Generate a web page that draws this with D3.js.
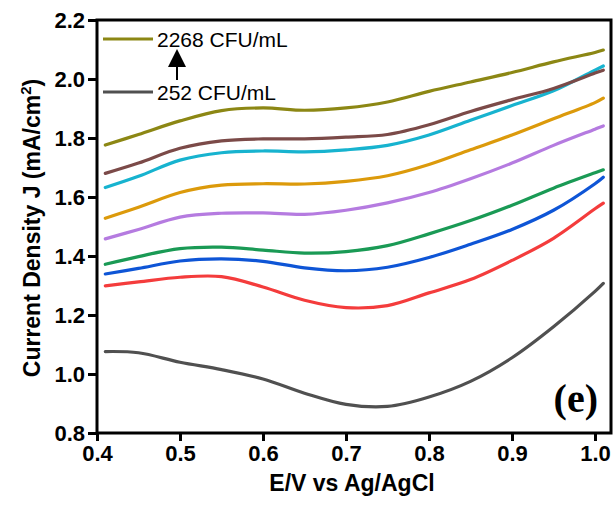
<!DOCTYPE html>
<html><head><meta charset="utf-8">
<script src="https://cdn.jsdelivr.net/npm/d3@7"></script>
<style>body{margin:0;background:#fff}svg{display:block}</style>
</head><body>
<svg id="chart" width="614" height="508"></svg>
<script>
const potentials = [0.41, 0.45, 0.50, 0.55, 0.60, 0.65, 0.70, 0.75, 0.80, 0.85, 0.90, 0.95, 1.00, 1.01];
const seriesNames = ["2268 CFU/mL", "s8", "s7", "s6", "s5", "s4", "s3", "s2", "252 CFU/mL"];
const seriesColors = ["#8c8714", "#7b4a48", "#17b3cf", "#dc9a0b", "#b57be0", "#1a9a55", "#0e55d6", "#f43c3c", "#505050"];
const olive  = [1.776, 1.812, 1.858, 1.893, 1.902, 1.894, 1.902, 1.922, 1.958, 1.990, 2.022, 2.058, 2.090, 2.098];
const brown  = [1.680, 1.715, 1.765, 1.790, 1.797, 1.797, 1.803, 1.812, 1.845, 1.890, 1.930, 1.968, 2.020, 2.030];
const cyan   = [1.632, 1.670, 1.725, 1.750, 1.756, 1.753, 1.760, 1.775, 1.810, 1.860, 1.910, 1.960, 2.030, 2.044];
const orange = [1.528, 1.565, 1.615, 1.640, 1.645, 1.644, 1.653, 1.672, 1.710, 1.760, 1.810, 1.865, 1.920, 1.935];
const purple = [1.458, 1.490, 1.532, 1.545, 1.546, 1.541, 1.555, 1.580, 1.615, 1.662, 1.715, 1.775, 1.830, 1.841];
const green  = [1.372, 1.398, 1.425, 1.430, 1.420, 1.410, 1.415, 1.435, 1.475, 1.520, 1.572, 1.630, 1.682, 1.692];
const blue   = [1.339, 1.358, 1.383, 1.390, 1.382, 1.360, 1.350, 1.362, 1.395, 1.440, 1.490, 1.555, 1.645, 1.667];
const red    = [1.299, 1.312, 1.328, 1.330, 1.295, 1.250, 1.225, 1.232, 1.275, 1.320, 1.385, 1.460, 1.560, 1.579];
const gray   = [1.076, 1.072, 1.040, 1.015, 0.983, 0.935, 0.897, 0.890, 0.922, 0.975, 1.055, 1.160, 1.280, 1.307];
const seriesValues = [olive, brown, cyan, orange, purple, green, blue, red, gray];
const xTicks = [0.4, 0.5, 0.6, 0.7, 0.8, 0.9, 1.0];
const yTicks = [0.8, 1.0, 1.2, 1.4, 1.6, 1.8, 2.0, 2.2];
const legendItems = [{label: "2268 CFU/mL", idx: 0}, {label: "252 CFU/mL", idx: 8}];

const svg = d3.select("#chart");
const L = 97, R = 611, T = 20, B = 433;
const x = d3.scaleLinear().domain([0.4, 1.0]).range([L, 595]);
const y = d3.scaleLinear().domain([0.8, 2.2]).range([B, T]);
const sans = "'Liberation Sans', Arial, sans-serif";

// lines (draw gray first, olive last)
const line = d3.line().x((d, i) => x(potentials[i])).y(d => y(d)).curve(d3.curveCatmullRom.alpha(0.5));
const order = d3.range(seriesValues.length).reverse();
svg.append("g").selectAll("path").data(order).join("path")
  .attr("d", i => line(seriesValues[i]))
  .attr("fill", "none")
  .attr("stroke", i => seriesColors[i])
  .attr("stroke-width", 3.2)
  .attr("stroke-linejoin", "round")
  .attr("stroke-linecap", "round");

// frame
svg.append("rect").attr("x", L).attr("y", T).attr("width", R - L).attr("height", B - T)
  .attr("fill", "none").attr("stroke", "#000").attr("stroke-width", 3);

// axes
const xAxis = d3.axisBottom(x).tickValues(xTicks).tickFormat(d3.format(".1f")).tickSizeOuter(0).tickSize(8).tickPadding(4);
const gx = svg.append("g").attr("transform", `translate(0,${B})`).call(xAxis);
gx.select(".domain").remove();
gx.selectAll(".tick line").attr("stroke-width", 3);
gx.selectAll(".tick text").attr("font-family", sans).attr("font-weight", "bold").attr("font-size", 22).attr("fill", "#000");

const yAxis = d3.axisLeft(y).tickValues(yTicks).tickFormat(d3.format(".1f")).tickSizeOuter(0).tickSize(9).tickPadding(3);
const gy = svg.append("g").attr("transform", `translate(${L},0)`).call(yAxis);
gy.select(".domain").remove();
gy.selectAll(".tick line").attr("stroke-width", 3);
gy.selectAll(".tick text").attr("font-family", sans).attr("font-weight", "bold").attr("font-size", 22).attr("fill", "#000");

// axis titles
svg.append("text").attr("x", 352).attr("y", 491).attr("text-anchor", "middle")
  .attr("font-family", sans).attr("font-weight", "bold").attr("font-size", 23)
  .text("E/V vs Ag/AgCl");
const yt = svg.append("text").attr("transform", "translate(40,228) rotate(-90)").attr("text-anchor", "middle")
  .attr("font-family", sans).attr("font-weight", "bold").attr("font-size", 23);
yt.append("tspan").text("Current Density J (mA/cm");
yt.append("tspan").attr("font-size", 15).attr("dy", -9).text("2");
yt.append("tspan").attr("dy", 9).text(")");

// legend
const legY = [39, 92];
legendItems.forEach((it, k) => {
  svg.append("line").attr("x1", 103).attr("x2", 153).attr("y1", legY[k]).attr("y2", legY[k])
    .attr("stroke", seriesColors[it.idx]).attr("stroke-width", 3.2);
  svg.append("text").attr("x", 157).attr("y", legY[k] + 8)
    .attr("font-family", sans).attr("font-size", 21).attr("fill", "#000").text(it.label);
});
// arrow
svg.append("line").attr("x1", 177).attr("x2", 177).attr("y1", 80).attr("y2", 62).attr("stroke", "#000").attr("stroke-width", 2);
svg.append("path").attr("d", "M177,49 L168,67 L186,67 Z").attr("fill", "#000");

// panel label
svg.append("text").attr("x", 598).attr("y", 412).attr("text-anchor", "end")
  .attr("font-family", "'Liberation Serif', 'Times New Roman', serif").attr("font-weight", "bold").attr("font-size", 40)
  .text("(e)");
</script>
</body></html>
